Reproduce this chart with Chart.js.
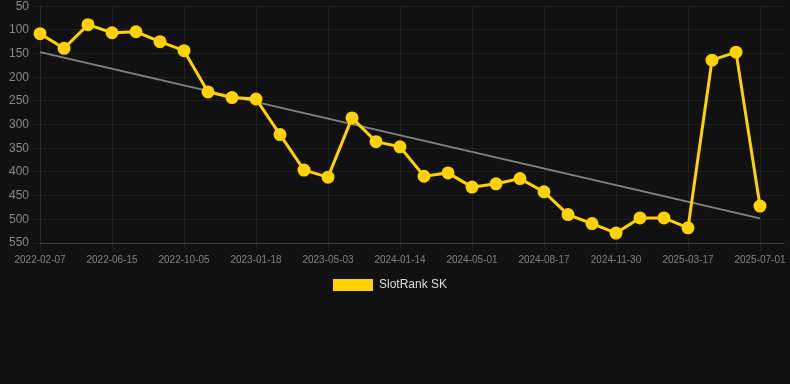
<!DOCTYPE html>
<html>
<head>
<meta charset="utf-8">
<script src="https://cdn.jsdelivr.net/npm/chart.js@4"></script>
<style>
  html, body { margin: 0; padding: 0; background: #111111; overflow: hidden; }
  #wrap { position: relative; width: 793px; height: 305px; margin-top: -4px; }
</style>
</head>
<body>
<div id="wrap"><canvas id="chart"></canvas></div>
<script>
const dates = [
  '2022-02-07', '2022-03-20', '2022-05-02', '2022-06-15', '2022-07-23', '2022-08-29',
  '2022-10-05', '2022-11-10', '2022-12-14', '2023-01-18', '2023-02-22', '2023-03-29',
  '2023-05-03', '2023-07-28', '2023-10-20', '2024-01-14', '2024-02-20', '2024-03-26',
  '2024-05-01', '2024-06-05', '2024-07-12', '2024-08-17', '2024-09-22', '2024-10-26',
  '2024-11-30', '2025-01-05', '2025-02-10', '2025-03-17', '2025-04-22', '2025-05-27',
  '2025-07-01', '2025-08-05'
];

// rank per date (lower is better, axis reversed)
const rankSK = [
  108, 139, 89, 106, 104, 125, 144, 231, 243, 246, 321, 396,
  411, 286, 336, 347, 409, 402, 432, 425, 414, 442, 490, 509,
  529, 497, 497, 518, 164, 147, 472, null
];

// trend line, only the two ends
const trendSK = [
  147, null, null, null, null, null, null, null, null, null, null, null,
  null, null, null, null, null, null, null, null, null, null, null, null,
  null, null, null, null, null, null, 498, null
];

const rankTicks = { min: 50, max: 550, step: 50 };

new Chart(document.getElementById('chart'), {
  type: 'line',
  data: {
    labels: dates,
    datasets: [{
      label: 'SlotRank SK',
      data: rankSK,
      borderColor: '#ffd200',
      backgroundColor: '#ffd200',
      borderWidth: 3,
      pointRadius: 5,
      pointHoverRadius: 6,
      tension: 0
    }, {
      label: 'Trend',
      data: trendSK,
      borderColor: 'rgba(150,150,150,0.85)',
      borderWidth: 2,
      pointRadius: 0,
      spanGaps: true
    }]
  },
  options: {
    responsive: true,
    maintainAspectRatio: false,
    animation: false,
    layout: { padding: { left: -13, right: 0 } },
    scales: {
      x: {
        grid: { color: 'rgba(255,255,255,0.06)' },
        border: { color: 'rgba(255,255,255,0.12)' },
        ticks: {
          color: '#808080',
          font: { size: 10 },
          maxRotation: 0,
          autoSkip: true,
          maxTicksLimit: 11
        }
      },
      y: {
        reverse: true,
        min: rankTicks.min,
        max: rankTicks.max,
        grid: { color: 'rgba(255,255,255,0.06)' },
        border: { color: 'rgba(255,255,255,0.06)' },
        ticks: {
          stepSize: rankTicks.step,
          color: '#888',
          font: { size: 12 }
        },
        afterFit: scale => { scale.width += 19; }
      }
    },
    plugins: {
      legend: {
        position: 'bottom',
        labels: {
          color: '#ddd',
          font: { size: 12 },
          boxWidth: 40,
          boxHeight: 12,
          generateLabels: chart => Chart.defaults.plugins.legend.labels
            .generateLabels(chart)
            .filter(item => item.datasetIndex === 0)
            .map(item => ({ ...item, lineWidth: 0 }))
        }
      },
      tooltip: { enabled: false }
    }
  }
});
</script>
</body>
</html>
